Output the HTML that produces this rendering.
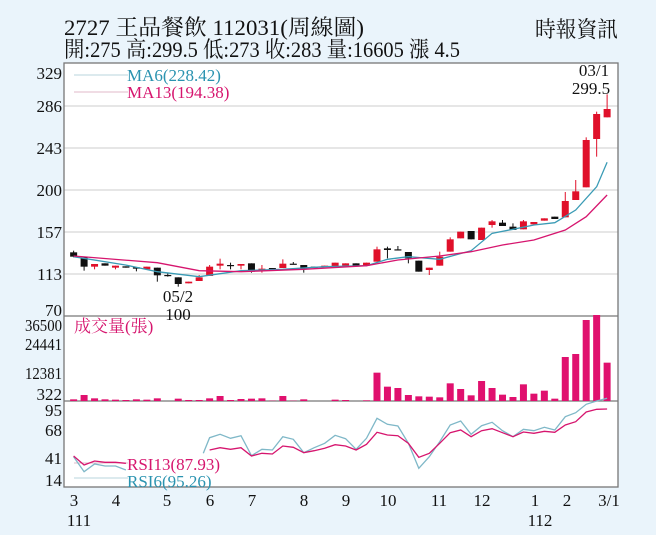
<!DOCTYPE html>
<html><head><meta charset="utf-8"><style>
html,body{margin:0;padding:0;background:#eaf4fb;}
svg{display:block;font-family:"Liberation Serif","Noto Serif CJK SC",serif;}
</style></head><body>
<svg id="s" width="656" height="535" viewBox="0 0 656 535" xmlns="http://www.w3.org/2000/svg">
<rect x="0" y="0" width="656" height="535" fill="#eaf4fb"/>
<rect x="64" y="63" width="554" height="424" fill="#fff"/>
<g stroke="#d8d8d8" stroke-width="1.2">
<line x1="64" x2="618" y1="106" y2="106"/><line x1="64" x2="618" y1="148" y2="148"/>
<line x1="64" x2="618" y1="190" y2="190"/><line x1="64" x2="618" y1="232" y2="232"/>
<line x1="64" x2="618" y1="274" y2="274"/>
</g>
<g stroke="#777" stroke-width="1.3" fill="none">
<rect x="64" y="63" width="554" height="424"/>
<line x1="64" x2="618" y1="316" y2="316"/><line x1="64" x2="618" y1="401" y2="401"/>
</g>
<g font-size="22" fill="#111">
<text x="64" y="35" textLength="300" lengthAdjust="spacingAndGlyphs">2727  王品餐飲 112031(周線圖)</text>
<text x="64" y="57" textLength="396" lengthAdjust="spacingAndGlyphs">開:275 高:299.5 低:273 收:283 量:16605 漲 4.5</text>
<text x="535" y="37" textLength="83" lengthAdjust="spacingAndGlyphs">時報資訊</text>
</g>
<g font-size="17" fill="#111" text-anchor="end">
<text x="62" y="79">329</text><text x="62" y="112">286</text><text x="62" y="154">243</text>
<text x="62" y="196">200</text><text x="62" y="238">157</text><text x="62" y="280">113</text>
<text x="62" y="316">70</text>
<text x="62" y="331" textLength="37" lengthAdjust="spacingAndGlyphs">36500</text><text x="62" y="350" textLength="37" lengthAdjust="spacingAndGlyphs">24441</text><text x="62" y="379" textLength="37" lengthAdjust="spacingAndGlyphs">12381</text><text x="62" y="400">322</text>
<text x="62" y="416">95</text><text x="62" y="436">68</text><text x="62" y="464">41</text><text x="62" y="486">14</text>
</g>
<g font-size="17" fill="#111" text-anchor="middle">
<text x="74" y="506">3</text><text x="79" y="526">111</text><text x="116" y="506">4</text><text x="167" y="506">5</text>
<text x="210" y="506">6</text><text x="252" y="506">7</text><text x="304" y="506">8</text><text x="346" y="506">9</text>
<text x="388" y="506">10</text><text x="439" y="506">11</text><text x="482" y="506">12</text>
<text x="535" y="506">1</text><text x="540" y="526">112</text><text x="567" y="506">2</text><text x="609" y="506">3/1</text>
<text x="594" y="76">03/1</text><text x="591" y="94">299.5</text>
<text x="178" y="302">05/2</text><text x="178" y="320">100</text>
</g>
<g font-size="17">
<line x1="74" x2="128" y1="75" y2="75" stroke="#b8d4dc"/>
<line x1="74" x2="128" y1="92" y2="92" stroke="#e0b8c8"/>
<text x="127" y="81" fill="#2a93b0">MA6(228.42)</text>
<text x="127" y="98" fill="#d6156e">MA13(194.38)</text>
<text x="74" y="332" fill="#d6156e">成交量(張)</text>
<line x1="74" x2="128" y1="463" y2="463" stroke="#e0b8c8"/>
<line x1="74" x2="128" y1="478" y2="478" stroke="#b8d4dc"/>
<text x="127" y="470" fill="#d6156e">RSI13(87.93)</text>
<text x="127" y="487" fill="#2a93b0">RSI6(95.26)</text>
</g>
<g id="g"></g>
</svg>
<script>
var K=2.39,NS="http://www.w3.org/2000/svg",g=document.getElementById('g');
function el(t,a){var e=document.createElementNS(NS,t);for(var k in a)e.setAttribute(k,a[k]);g.appendChild(e);return e;}
var R="#e0102a",B="#111";
var c=[["b",757,770,752,772],["b",772,800,772,812],["r",792,800,792,808],["b",790,797,790,797],["r",797,803,797,808],["b",799,803,799,803],["b",802,806,802,814],["r",800,808,800,808],["b",803,826,803,845],["x",825,828,818,830],["b",832,852,832,860],["r",845,850,845,850],["r",832,843,825,843],["r",800,828,795,828],["r",791,797,776,808],["x",795,797,788,808],["r",792,797,792,808],["b",790,815,790,818],["r",806,812,795,818],["b",804,808,804,808],["r",791,804,778,804],["x",791,793,786,793],["b",795,808,795,818],["x",800,802,800,802],["r",797,800,797,800],["r",788,798,788,798],["r",790,797,790,797],["b",790,797,790,797],["r",788,797,788,797],["r",748,785,740,785],["b",745,750,740,775],["x",748,751,738,751],["b",756,775,756,790],["b",782,815,782,815],["r",803,810,803,825],["r",770,797,755,797],["r",718,755,712,755],["r",695,715,695,715],["b",693,718,693,718],["r",683,720,683,720],["r",664,675,660,683],["b",668,678,660,678],["b",680,690,670,690],["r",664,688,660,688],["r",666,673,666,673],["r",655,662,655,662],["b",650,657,650,657],["r",603,652,576,652],["r",574,600,540,600],["r",420,562,412,562],["r",342,417,335,470],["r",327,352,283,352]];
var vol=[268,255,265,268,269,270,268,269,265,273,266,270,270,265,258,270,267,266,265,272,258,272,268,273,273,269,270,273,271,188,230,234,255,259,260,262,220,237,256,213,234,254,261,223,251,242,266,141,132,30,15,158];
for(var i=0;i<c.length;i++){var x=(176+25*i)/K,d=c[i],col=d[0]=="r"?R:B;
 el("line",{x1:x,x2:x,y1:d[3]/3,y2:d[4]/3,stroke:col,"stroke-width":1});
 var h=Math.max((d[2]-d[1])/3,1.2);
 el("rect",{x:x-3.5,y:d[1]/3,width:7,height:h,fill:col});
 if(vol[i]<273){var t=Math.max(vol[i],0);el("rect",{x:x-3.5,y:310+t/3,width:7,height:(273-t)/3,fill:"#e0106e"});}
}
function line(p,col,off){var s="";for(var i=0;i<p.length;i+=2)s+=(i?"L":"M")+(p[i]/K).toFixed(1)+","+(off+p[i+1]/3).toFixed(1);el("path",{d:s,fill:"none",stroke:col,"stroke-width":1.3});}
line([176,770,300,795,376,815,476,830,576,812,676,808,776,800,876,797,926,778,976,770,1051,778,1126,752,1176,700,1226,688,1276,675,1326,668,1376,630,1426,560,1451,487],"#3a9bb5",0);
line([176,768,376,788,476,812,576,815,726,808,876,797,951,780,1051,768,1126,755,1201,735,1276,720,1351,690,1401,650,1451,585],"#d6156e",0);
line([176,440,201,485,226,462,251,468,276,468,301,480],"#7fb8c8",310);
line([486,430,501,383,526,373,551,385,576,377,601,437,626,418,651,420,676,380,701,388,726,428,751,413,776,400,801,376,826,386,851,418,876,385,901,325,926,343,951,348,976,400,1001,475,1026,440,1051,395,1076,345,1101,333,1126,373,1151,347,1176,337,1201,362,1226,380,1251,358,1276,362,1301,352,1326,360,1351,320,1376,308,1401,283,1426,273,1451,265],"#7fb8c8",310);
line([176,438,201,465,226,453,251,457,276,457,301,460],"#d6156e",310);
line([501,420,526,413,551,418,576,413,601,438,626,430,651,432,676,408,701,412,726,428,751,422,776,415,801,404,826,408,851,420,876,403,901,367,926,375,951,377,976,400,1001,442,1026,430,1051,400,1076,368,1101,360,1126,380,1151,362,1176,356,1201,368,1226,380,1251,366,1276,370,1301,364,1326,367,1351,345,1376,335,1401,306,1426,298,1451,297],"#d6156e",310);
</script>
</body></html>
